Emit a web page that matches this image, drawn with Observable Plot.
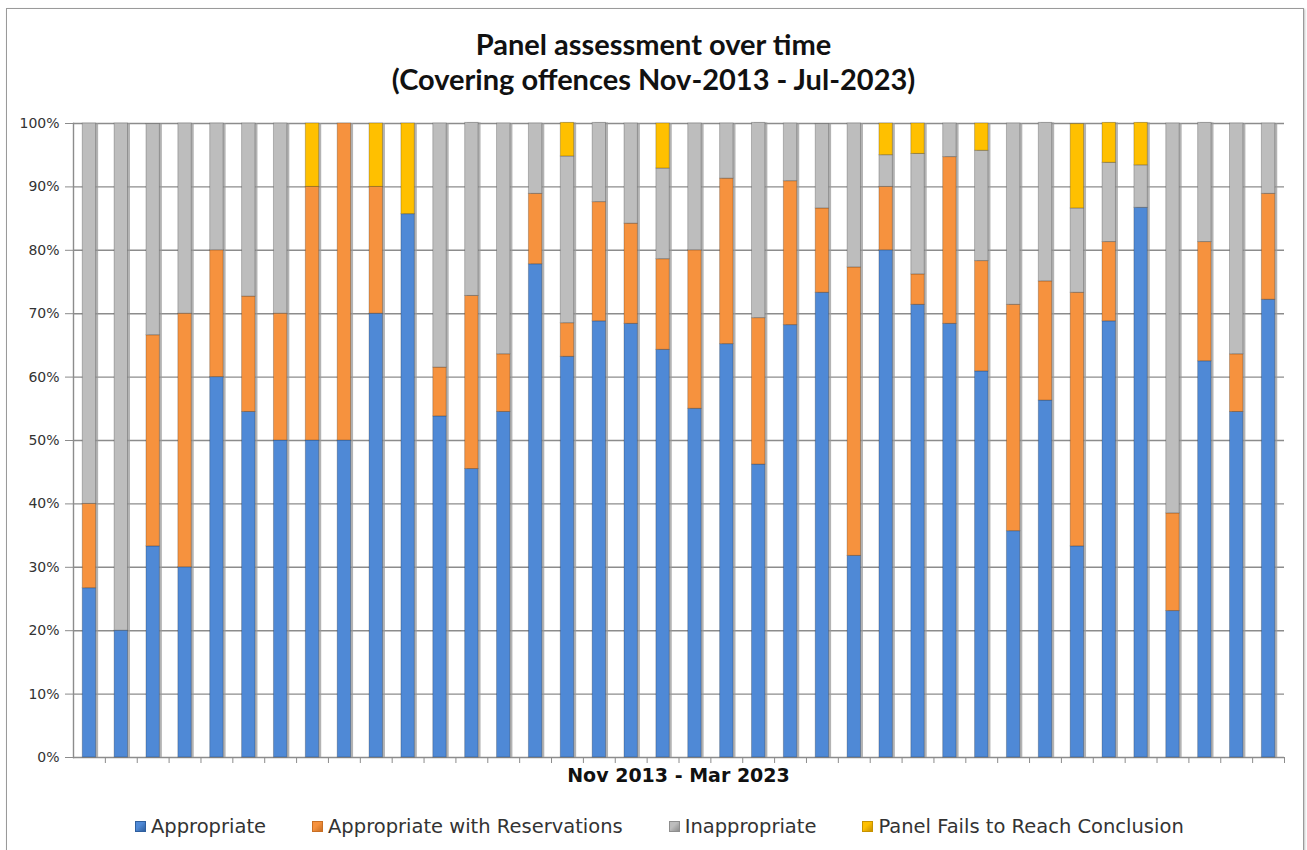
<!DOCTYPE html>
<html>
<head>
<meta charset="utf-8">
<script src="https://cdn.jsdelivr.net/npm/d3@7"></script>
<script src="https://cdn.jsdelivr.net/npm/@observablehq/plot@0.6"></script>
<style>
  body { margin: 0; background: #fff; }
  #wrap { position: relative; width: 1307px; height: 850px; overflow: hidden; background: #fff; font-family: "DejaVu Sans", sans-serif; }
  #frame { position: absolute; left: 6px; top: 8px; width: 1296px; height: 870px; border: 1px solid #9a9a9a; box-shadow: 1px 1px 2px rgba(0,0,0,0.25); }
  #title { position: absolute; top: 26px; left: 0; width: 1307px; text-align: center; font-family: Lato, "Open Sans", sans-serif; font-weight: bold; font-size: 29px; line-height: 35px; color: #111; }
  #chart { position: absolute; left: 0; top: 110px; }
  #xlabel { position: absolute; top: 764px; left: 73px; width: 1211px; text-align: center; font-weight: bold; font-size: 19px; color: #111; }
  #legend { position: absolute; top: 815px; left: 135px; display: flex; gap: 46px; font-size: 19.5px; color: #333; white-space: nowrap; }
  .item { display: flex; align-items: center; }
  .sw { width: 9px; height: 9px; margin-right: 5px; border: 1px solid; }
</style>
</head>
<body>
<div id="wrap">
  <div id="frame"></div>
  <div id="title">Panel assessment over time<br>(Covering offences Nov-2013 - Jul-2023)</div>
  <div id="chart"></div>
  <div id="xlabel">Nov 2013 - Mar 2023</div>
  <div id="legend"></div>
</div>
<script>
// ---- data (percent of assessments per period) ----
const periods = [1,2,3,4,5,6,7,8,9,10,11,12,13,14,15,16,17,18,19,20,21,22,23,24,25,26,27,28,29,30,31,32,33,34,35,36,37,38];
const appropriate   = [26.7,20,33.3,30,60,54.5,50,50,50,70,85.7,53.8,45.5,54.5,77.8,63.2,68.8,68.4,64.3,55,65.2,46.2,68.2,73.3,31.8,80,71.4,68.4,60.9,35.7,56.3,33.3,68.8,86.7,23.1,62.5,54.5,72.2];
const reservations  = [13.3,0,33.3,40,20,18.2,20,40,50,20,0,7.7,27.3,9.1,11.1,5.3,18.8,15.8,14.3,25,26.1,23.1,22.7,13.3,45.5,10,4.8,26.3,17.4,35.7,18.8,40,12.5,0,15.4,18.8,9.1,16.7];
const inappropriate = [60,80,33.3,30,20,27.3,30,0,0,0,0,38.5,27.3,36.4,11.1,26.3,12.5,15.8,14.3,20,8.7,30.8,9.1,13.3,22.7,5,19,5.3,17.4,28.6,25,13.3,12.5,6.7,61.5,18.8,36.4,11.1];
const noConclusion  = [0,0,0,0,0,0,0,10,0,10,14.3,0,0,0,0,5.3,0,0,7.1,0,0,0,0,0,0,5,4.8,0,4.3,0,0,13.3,6.3,6.7,0,0,0,0];
const seriesNames = ["Appropriate","Appropriate with Reservations","Inappropriate","Panel Fails to Reach Conclusion"];
const seriesColors = ["#4f89d6","#f6923e","#bdbdbd","#ffc000"];
const seriesEdges  = ["#2f5f9e","#c96f24","#8e8e8e","#c79200"];
const yTicks = [0,10,20,30,40,50,60,70,80,90,100];
const xTitle = "Nov 2013 - Mar 2023";

// ---- build tidy table ----
const seriesArrays = [appropriate, reservations, inappropriate, noConclusion];
const rows = [];
periods.forEach((p, i) => {
  seriesArrays.forEach((arr, j) => {
    if (arr[i] > 0) rows.push({period: p, series: seriesNames[j], value: arr[i]});
  });
});
const totals = periods.map((p, i) => ({period: p, total: d3.sum(seriesArrays, a => a[i])}));

const W = 1307, H = 687, ML = 73, MR = 23, MT = 13, MB = 40;

function build(step) {
  return Plot.plot({
    width: W, height: H,
    marginLeft: ML, marginRight: MR, marginTop: MT, marginBottom: MB,
    style: {fontFamily: "DejaVu Sans, sans-serif", fontSize: "14px", color: "#333", background: "transparent", overflow: "visible"},
    x: {domain: periods, paddingInner: 0.58, paddingOuter: 0.29, axis: null},
    y: {domain: [0, 100], axis: null},
    color: {domain: seriesNames, range: seriesColors},
    marks: [
      Plot.ruleY(yTicks, {stroke: "#8c8c8c", strokeWidth: 1.4}),
      Plot.barY(totals, {x: "period", y: "total", dx: 2.5, fill: "#9a9a9a", fillOpacity: 0.75}),
      Plot.barY(rows, {x: "period", y: "value", fill: "series", stroke: "#000", strokeOpacity: 0.22, strokeWidth: 1}),
      Plot.frame({anchor: "left", stroke: "#8c8c8c", strokeWidth: 1.4}),
      Plot.axisY({ticks: yTicks, tickFormat: d => d + "%", tickSize: 8, tickPadding: 6, label: null, stroke: "#8c8c8c", fill: "#333"}),
      Plot.axisX({tickSize: 6, tickFormat: () => "", dx: step / 2, label: null, stroke: "#8c8c8c"})
    ]
  });
}

const probe = build(0);
const xs = probe.scale("x");
const step = (xs && xs.step) ? xs.step : (W - ML - MR) / periods.length;
document.getElementById("chart").appendChild(build(step));

// ---- legend ----
const legend = document.getElementById("legend");
seriesNames.forEach((name, j) => {
  const item = document.createElement("div");
  item.className = "item";
  const sw = document.createElement("span");
  sw.className = "sw";
  sw.style.background = `linear-gradient(135deg, ${seriesColors[j]} 40%, ${seriesEdges[j]})`;
  sw.style.borderColor = seriesEdges[j];
  const t = document.createElement("span");
  t.textContent = name;
  item.appendChild(sw); item.appendChild(t);
  legend.appendChild(item);
});
</script>
</body>
</html>
